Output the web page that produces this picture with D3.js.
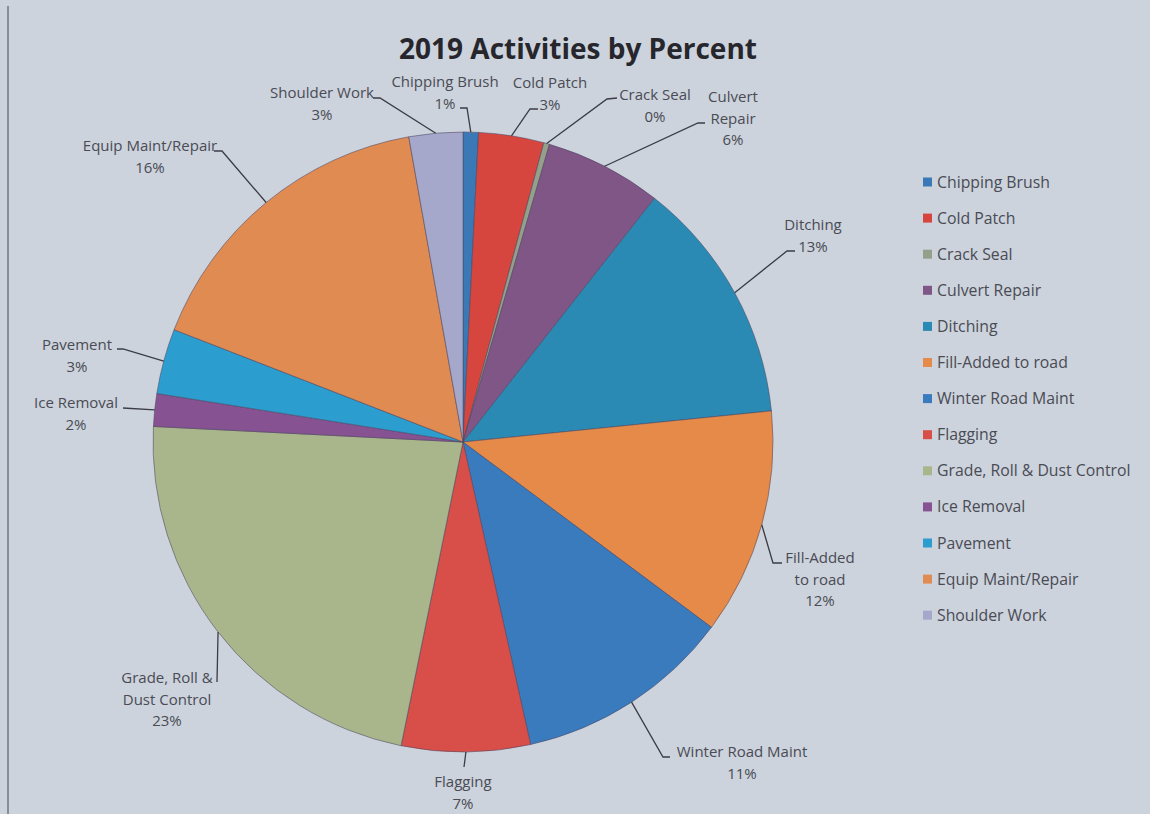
<!DOCTYPE html>
<html>
<head>
<meta charset="utf-8">
<script src="https://cdn.jsdelivr.net/npm/d3@7"></script>
<style>
  body { margin: 0; background: #ccd3dc; }
  svg { display: block; }
</style>
</head>
<body>
<div id="chart"></div>
<script>
// 2019 activities, share of total
const categories = ["Chipping Brush", "Cold Patch", "Crack Seal", "Culvert Repair",
                    "Ditching", "Fill-Added to road", "Winter Road Maint", "Flagging",
                    "Grade, Roll & Dust Control", "Ice Removal", "Pavement",
                    "Equip Maint/Repair", "Shoulder Work"];
const values = [0.8, 3.4, 0.3, 6.1, 12.8, 11.8, 11.3, 6.7, 22.6, 1.7, 3.4, 16.3, 2.8];
const labelLines = [["Chipping Brush"], ["Cold Patch"], ["Crack Seal"], ["Culvert", "Repair"],
                    ["Ditching"], ["Fill-Added", "to road"], ["Winter Road Maint"], ["Flagging"],
                    ["Grade, Roll &", "Dust Control"], ["Ice Removal"], ["Pavement"],
                    ["Equip Maint/Repair"], ["Shoulder Work"]];
const colors = ["#3a78b6", "#d6463f", "#94a08a", "#7f5685", "#2b8ab4", "#e58a48",
                "#3a7bbe", "#d74f48", "#a9b58b", "#865292", "#2c9dcf", "#df8b52", "#a6a8cb"];

// label placement (layout only)
const labelPos = [[445, 82], [550, 83], [655, 95], [733, 97], [813, 225], [820, 558],
                  [742, 752], [463, 782], [167, 678], [76, 403], [77, 345], [150, 146], [322, 93]];
const leaderPts = [[[467, 108], [460, 108]], [[530, 109], [538, 109]], [[607, 99], [617, 98]],
                   [[698, 123], [705, 123]], [[787, 251], [795, 251]], [[773, 563], [782, 563]],
                   [[663, 757], [670, 757]], [[464, 767]], [[217, 682]], [[123, 408]],
                   [[123, 349], [117, 349]], [[222, 151], [214, 151]], [[380, 98], [373, 98]]];

const W = 1150, H = 814;
const cx = 463, cy = 442, R = 310;
const fmt = d3.format(".0%");
const total = d3.sum(values);

const svg = d3.select("#chart").append("svg")
  .attr("width", W)
  .attr("height", H);

svg.append("rect").attr("width", W).attr("height", H).attr("fill", "#ccd3dc");
svg.append("line")
  .attr("x1", 8).attr("x2", 8).attr("y1", 6).attr("y2", H)
  .attr("stroke", "#5b5f66").attr("stroke-width", 1.2);

svg.append("text")
  .attr("x", 578).attr("y", 59)
  .attr("text-anchor", "middle")
  .attr("font-family", "Open Sans")
  .attr("font-weight", "bold")
  .attr("font-size", "28px")
  .attr("fill", "#26262c")
  .text("2019 Activities by Percent");

const data = categories.map((c, i) => ({name: c, value: values[i], i: i}));
const pie = d3.pie().sort(null).value(d => d.value);
const arcs = pie(data);

const arc = d3.arc().innerRadius(0).outerRadius(R);
const edge = d3.arc().innerRadius(R).outerRadius(R);

const g = svg.append("g").attr("transform", `translate(${cx},${cy})`);

g.selectAll("path.slice")
  .data(arcs)
  .enter()
  .append("path")
  .attr("class", "slice")
  .attr("d", arc)
  .attr("fill", d => colors[d.data.i])
  .attr("stroke", "#4e4660")
  .attr("stroke-opacity", 0.55)
  .attr("stroke-width", 1);

// leader lines
const line = d3.line();
svg.selectAll("path.leader")
  .data(arcs)
  .enter()
  .append("path")
  .attr("class", "leader")
  .attr("d", d => {
    const [x, y] = edge.centroid(d);
    return line([[cx + x, cy + y]].concat(leaderPts[d.data.i]));
  })
  .attr("fill", "none")
  .attr("stroke", "#3b3c45")
  .attr("stroke-width", 1.3);

// data labels
const labels = svg.selectAll("text.lbl")
  .data(arcs)
  .enter()
  .append("text")
  .attr("class", "lbl")
  .attr("text-anchor", "middle")
  .attr("font-family", "Open Sans")
  .attr("font-size", "15px")
  .attr("fill", "#4a4b55");

labels.each(function(d) {
  const [x, y] = labelPos[d.data.i];
  const lines = labelLines[d.data.i].concat([fmt(d.data.value / total)]);
  d3.select(this).selectAll("tspan")
    .data(lines)
    .enter()
    .append("tspan")
    .attr("x", x)
    .attr("y", (t, k) => y + k * 21.5)
    .attr("dy", "0.35em")
    .text(t => t);
});

// legend
const legend = svg.append("g").attr("transform", "translate(923,182)");
const items = legend.selectAll("g")
  .data(data)
  .enter()
  .append("g")
  .attr("transform", (d, i) => `translate(0,${i * 36.1})`);

items.append("rect")
  .attr("x", 0).attr("y", -4.5)
  .attr("width", 9).attr("height", 9)
  .attr("fill", d => colors[d.i]);

items.append("text")
  .attr("x", 14)
  .attr("dy", "0.35em")
  .attr("font-family", "Open Sans")
  .attr("font-size", "15.8px")
  .attr("fill", "#4a4b55")
  .text(d => d.name);
</script>
</body>
</html>
